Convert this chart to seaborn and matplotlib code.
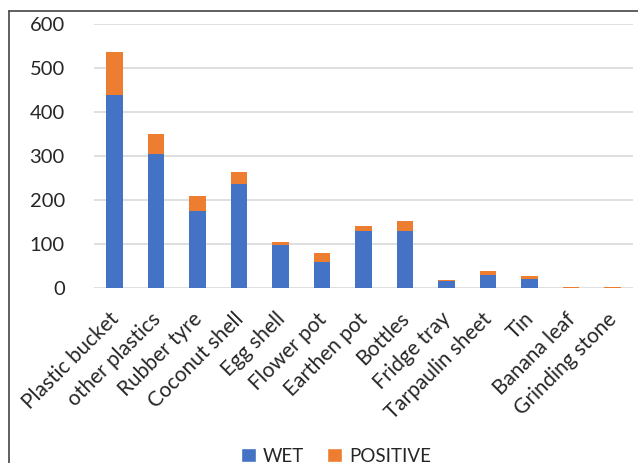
import matplotlib
matplotlib.use("Agg")
import matplotlib.pyplot as plt
import matplotlib.transforms as mtransforms
import seaborn as sns
import pandas as pd
from matplotlib.lines import Line2D
from matplotlib.patches import Patch

categories = ["Plastic bucket", "other plastics", "Rubber tyre", "Coconut shell",
              "Egg shell", "Flower pot", "Earthen pot", "Bottles", "Fridge tray",
              "Tarpaulin sheet", "Tin", "Banana leaf", "Grinding stone"]
wet = [438, 305, 175, 236, 97, 60, 130, 130, 15, 29, 21, 0, 0]
positive = [98, 44, 34, 27, 7, 19, 12, 22, 3, 9, 7, 3, 3]
yticks = [0, 100, 200, 300, 400, 500, 600]

BLUE = "#4472C4"
ORANGE = "#ED7D31"

sns.set_theme(style="white")
plt.rcParams["font.family"] = ["Lato", "DejaVu Sans"]

df = pd.DataFrame({"cat": categories, "wet": wet,
                   "total": [w + p for w, p in zip(wet, positive)]})

fig = plt.figure(figsize=(6.38, 4.63), dpi=100)
ax = fig.add_axes([94/638, 1 - 288/463, (633-94)/638, (288-24)/463])

sns.barplot(data=df, x="cat", y="total", color=ORANGE, width=0.4,
            saturation=1, ax=ax, linewidth=0, zorder=3)
sns.barplot(data=df, x="cat", y="wet", color=BLUE, width=0.4,
            saturation=1, ax=ax, linewidth=0, zorder=3)

ax.set_ylim(0, 600)
ax.set_xlim(-0.5, len(categories) - 0.5)
ax.set_yticks(yticks)
ax.set_yticklabels([str(t) for t in yticks], fontsize=14.5, color="#262626")
ax.yaxis.grid(True, color="#D9D9D9", linewidth=1.2, zorder=0)
ax.set_axisbelow(True)
for s in ax.spines.values():
    s.set_visible(False)
ax.tick_params(axis="both", length=0)
ax.tick_params(axis="y", pad=21)
ax.set_xticks(range(len(categories)))
ax.set_xticklabels(categories, rotation=45, ha="right", rotation_mode="anchor",
                   fontsize=15, color="#262626")
ax.tick_params(axis="x", pad=15)
offset = mtransforms.ScaledTranslation(-6/100, 0, fig.dpi_scale_trans)
for lab in ax.get_xticklabels():
    lab.set_transform(lab.get_transform() + offset)
ax.set_xlabel("")
ax.set_ylabel("")

# outer frame (cropped at right and bottom)
fig.add_artist(Line2D([9/638, 9/638], [0, 1 - 11/463], color="#444444", linewidth=1.2,
                      transform=fig.transFigure))
fig.add_artist(Line2D([9/638, 1], [1 - 11/463, 1 - 11/463], color="#444444", linewidth=1.2,
                      transform=fig.transFigure))

handles = [Patch(facecolor=BLUE, label="WET"), Patch(facecolor=ORANGE, label="POSITIVE")]
fig.legend(handles=handles, loc="center", bbox_to_anchor=(336/638, 1 - 456/463),
           ncol=2, frameon=False, fontsize=13.5, handlelength=0.8, handleheight=0.8,
           handletextpad=0.4, columnspacing=1.2)

fig.savefig("out.png", dpi=100)
